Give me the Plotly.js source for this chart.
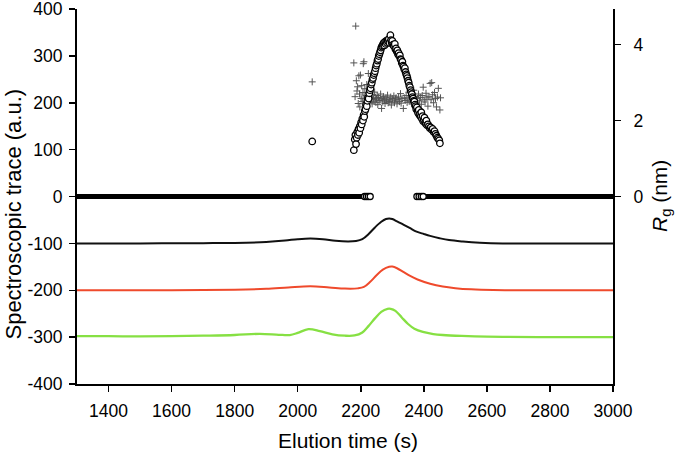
<!DOCTYPE html>
<html>
<head>
<meta charset="utf-8">
<script src="https://cdn.plot.ly/plotly-3.0.1.min.js"></script>
<style>html,body{margin:0;padding:0;background:#fff;}#chart{width:686px;height:454px;}</style>
</head>
<body>
<div id="chart"></div>
<script>
// Spectroscopic traces (left axis, a.u.)
const blackT = [1300,1500,1700,1800,1900,1960,2000,2040,2080,2120,2160,2185,2205,2225,2245,2265,2280,2290,2300,2315,2335,2355,2377,2400,2420,2450,2480,2524,2578,2650,3000];
const blackV = [-100,-100,-99.5,-99,-97,-94,-91,-89.5,-91,-94.5,-96,-95,-91,-80,-66,-54,-48,-47,-48,-53,-60,-67,-75,-80,-84,-89,-93,-96,-98.5,-100,-100];

const redT = [1300,1600,1800,1900,1970,2040,2100,2150,2190,2210,2230,2250,2270,2290,2300,2315,2335,2355,2380,2420,2460,2500,2550,2620,3000];
const redV = [-200,-200,-199,-197,-194,-191.5,-194,-196.5,-196,-193,-182,-168,-156,-150,-149.5,-153,-161,-169,-177,-186,-192,-195.5,-198,-199.5,-200];

const greenT = [1300,1400,1500,1600,1700,1800,1880,1940,1975,2000,2034,2070,2110,2150,2180,2205,2225,2245,2265,2285,2295,2310,2330,2350,2370,2397,2430,2460,2520,2600,3000];
const greenV = [-298,-298,-298.5,-298,-297,-295.5,-293,-295,-295.5,-291,-283,-287,-294,-297,-296.5,-290,-276,-260,-246,-239.5,-239.5,-244,-258,-272,-282,-289,-293.5,-295.5,-297.5,-299,-300];

// Rg (right axis, nm) - zero baseline segments and circles near the gap
const rgZeroBarT = [1300,2206,null,2398,3000];
const rgZeroBarV = [0,0,null,0,0];
const rgZeroT = [2212,2218,2224,2230,2378,2385,2392,2398];
const rgZeroV = [0,0,0,0,0,0,0,0];

// Rg circles
const rgCircT = [2046,2178,2181,2183,2185,2187,2189,2191,2193,2195,2197,2199,2201,2203,2205,2207,2209,2211,2213,2215,2217,2219,2221,2223,2225,2227,2229,2231,2233,2235,2237,2239,2241,2243,2245,2247,2249,2251,2253,2255,2257,2259,2261,2263,2265,2267,2269,2271,2273,2275,2277,2279,2281,2283,2285,2287,2289,2291,2294,2296,2298,2300,2302,2304,2306,2308,2310,2312,2314,2316,2318,2320,2322,2324,2326,2328,2330,2332,2334,2336,2338,2340,2342,2344,2346,2348,2350,2352,2354,2356,2358,2360,2362,2364,2366,2368,2370,2372,2374,2376,2378,2380,2382,2384,2386,2388,2390,2392,2394,2396,2398,2400,2402,2404,2406,2408,2410,2413,2416,2419,2422,2425,2428,2431,2434,2437,2440,2443,2446,2449,2451];
const rgCircV = [1.45,1.22,1.50,1.62,1.38,1.55,1.70,1.62,1.78,1.68,1.85,1.80,1.95,1.90,2.05,2.00,2.15,2.10,2.25,2.30,2.42,2.38,2.52,2.60,2.58,2.72,2.80,2.85,2.95,3.00,3.08,3.12,3.20,3.25,3.30,3.38,3.45,3.50,3.58,3.62,3.70,3.75,3.80,3.85,3.92,3.95,3.98,4.02,4.05,3.98,4.08,4.02,4.10,4.05,4.12,4.08,4.15,4.05,4.25,4.12,4.05,4.10,4.00,3.98,3.95,4.02,3.88,3.90,3.82,3.85,3.75,3.78,3.70,3.72,3.62,3.60,3.52,3.55,3.45,3.42,3.35,3.38,3.28,3.22,3.18,3.12,3.05,3.00,2.92,2.88,2.80,2.75,2.70,2.62,2.58,2.52,2.50,2.42,2.38,2.30,2.35,2.25,2.20,2.28,2.15,2.18,2.10,2.22,2.05,2.12,1.98,2.02,2.08,1.95,1.92,2.00,1.88,1.90,1.85,1.80,1.82,1.76,1.78,1.70,1.72,1.65,1.60,1.55,1.52,1.48,1.40];

// Rg crosses
const rgPlusT = [2046,2178,2182,2184,2186,2188,2190,2192,2194,2196,2197,2199,2201,2203,2205,2207,2208,2210,2211,2213,2215,2217,2219,2221,2223,2224,2226,2228,2230,2232,2234,2236,2238,2240,2242,2244,2246,2248,2250,2252,2254,2256,2258,2261,2263,2266,2268,2270,2272,2275,2277,2280,2282,2285,2287,2290,2292,2295,2297,2300,2302,2305,2307,2310,2312,2315,2318,2320,2323,2326,2328,2331,2335,2338,2341,2344,2347,2350,2353,2356,2359,2362,2365,2368,2371,2374,2377,2380,2383,2386,2389,2392,2395,2398,2401,2404,2407,2410,2413,2416,2420,2423,2425,2428,2431,2434,2437,2440,2443,2446,2451,2453];
const rgPlusV = [3.02,3.52,2.63,4.49,3.05,2.78,2.89,2.45,3.18,2.70,2.36,3.20,2.58,2.92,2.50,2.74,3.50,3.55,2.62,2.84,2.40,2.66,2.95,2.52,2.71,3.24,2.58,2.47,2.80,2.62,2.55,2.44,2.69,2.58,2.51,2.75,2.60,2.48,2.57,2.66,2.42,2.61,2.53,2.54,2.70,2.32,2.58,2.49,2.63,2.55,2.45,2.60,2.52,2.67,2.47,2.56,2.50,2.62,2.41,2.58,2.52,2.65,2.47,2.57,2.60,2.44,2.55,2.62,2.50,2.71,2.46,2.58,2.32,2.60,2.53,2.66,2.48,2.57,2.75,2.51,2.62,2.44,2.59,2.80,2.53,2.64,2.47,2.58,2.70,2.52,2.61,2.43,2.66,2.88,2.55,2.49,2.72,2.60,2.38,2.63,2.98,2.55,3.00,2.68,2.47,2.74,2.58,2.36,2.62,2.85,2.28,2.60];

const xTicks = [1400,1600,1800,2000,2200,2400,2600,2800,3000];
const yTicks = [-400,-300,-200,-100,0,100,200,300,400];
const yTickText = ['-400','-300','-200','-100','0','100','200','300','400'];
const y2Ticks = [0,2,4];

const FONT = 'Liberation Sans, Arial, sans-serif';

const traces = [
  {x: blackT, y: blackV, type:'scatter', mode:'lines', line:{color:'#111111', width:2, shape:'spline'}, yaxis:'y'},
  {x: redT, y: redV, type:'scatter', mode:'lines', line:{color:'#ef4a2c', width:2, shape:'spline'}, yaxis:'y'},
  {x: greenT, y: greenV, type:'scatter', mode:'lines', line:{color:'#86e043', width:2.3, shape:'spline'}, yaxis:'y'},
  {x: rgZeroBarT, y: rgZeroBarV, type:'scatter', mode:'lines', line:{color:'#000', width:5}, yaxis:'y2', connectgaps:false},
  {x: rgPlusT, y: rgPlusV, type:'scatter', mode:'markers', marker:{symbol:'cross-thin-open', size:5, color:'#555', line:{color:'#555', width:1}}, yaxis:'y2'},
  {x: rgZeroT, y: rgZeroV, type:'scatter', mode:'markers', marker:{symbol:'circle', size:6, color:'#fff', line:{color:'#000', width:1.3}}, yaxis:'y2'},
  {x: rgCircT, y: rgCircV, type:'scatter', mode:'markers', marker:{symbol:'circle', size:6.5, color:'#fff', line:{color:'#000', width:1.3}}, yaxis:'y2'}
];

const layout = {
  width:686, height:454,
  margin:{l:77, r:73, t:9, b:70, pad:0},
  paper_bgcolor:'#fff', plot_bgcolor:'#fff',
  showlegend:false,
  font:{family:FONT, size:17.5, color:'#000'},
  xaxis:{
    range:[1300,3000], tickvals:xTicks, ticks:'outside', ticklen:6, tickwidth:1.5, tickcolor:'#000',
    showline:true, linecolor:'#000', linewidth:2, showgrid:false, zeroline:false,
    tickfont:{family:FONT, size:17.5}, ticklabelstandoff:4, ticklabeloverflow:'allow'
  },
  yaxis:{
    range:[-400,400], tickvals:yTicks, ticktext:yTickText, ticks:'outside', ticklen:6, tickwidth:1.5, tickcolor:'#000',
    showline:true, linecolor:'#000', linewidth:2, showgrid:false, zeroline:false,
    tickfont:{family:FONT, size:17.5}, ticklabelstandoff:3, ticklabeloverflow:'allow'
  },
  yaxis2:{
    overlaying:'y', side:'right', anchor:'x',
    range:[-4.94,4.94], tickvals:y2Ticks, ticks:'outside', ticklen:6, tickwidth:1.5, tickcolor:'#000',
    showline:true, linecolor:'#000', linewidth:2, showgrid:false, zeroline:false,
    tickfont:{family:FONT, size:17.5}, ticklabelstandoff:9, ticklabeloverflow:'allow'
  },
  annotations:[
    {text:'Elution time (s)', xref:'paper', yref:'paper', x:0.5056, y:-0.152, xanchor:'center', yanchor:'middle', showarrow:false, font:{family:FONT, size:21}},
    {text:'Spectroscopic trace (a.u.)', xref:'paper', yref:'paper', x:-0.1203, y:0.4533, xanchor:'center', yanchor:'middle', textangle:-90, showarrow:false, font:{family:FONT, size:22}},
    {text:'<i>R</i><sub>g</sub> (nm)', xref:'paper', yref:'paper', x:1.0896, y:0.5013, xanchor:'center', yanchor:'middle', textangle:-90, showarrow:false, font:{family:FONT, size:21}}
  ]
};

Plotly.newPlot('chart', traces, layout, {displayModeBar:false, staticPlot:true});
</script>
</body>
</html>
